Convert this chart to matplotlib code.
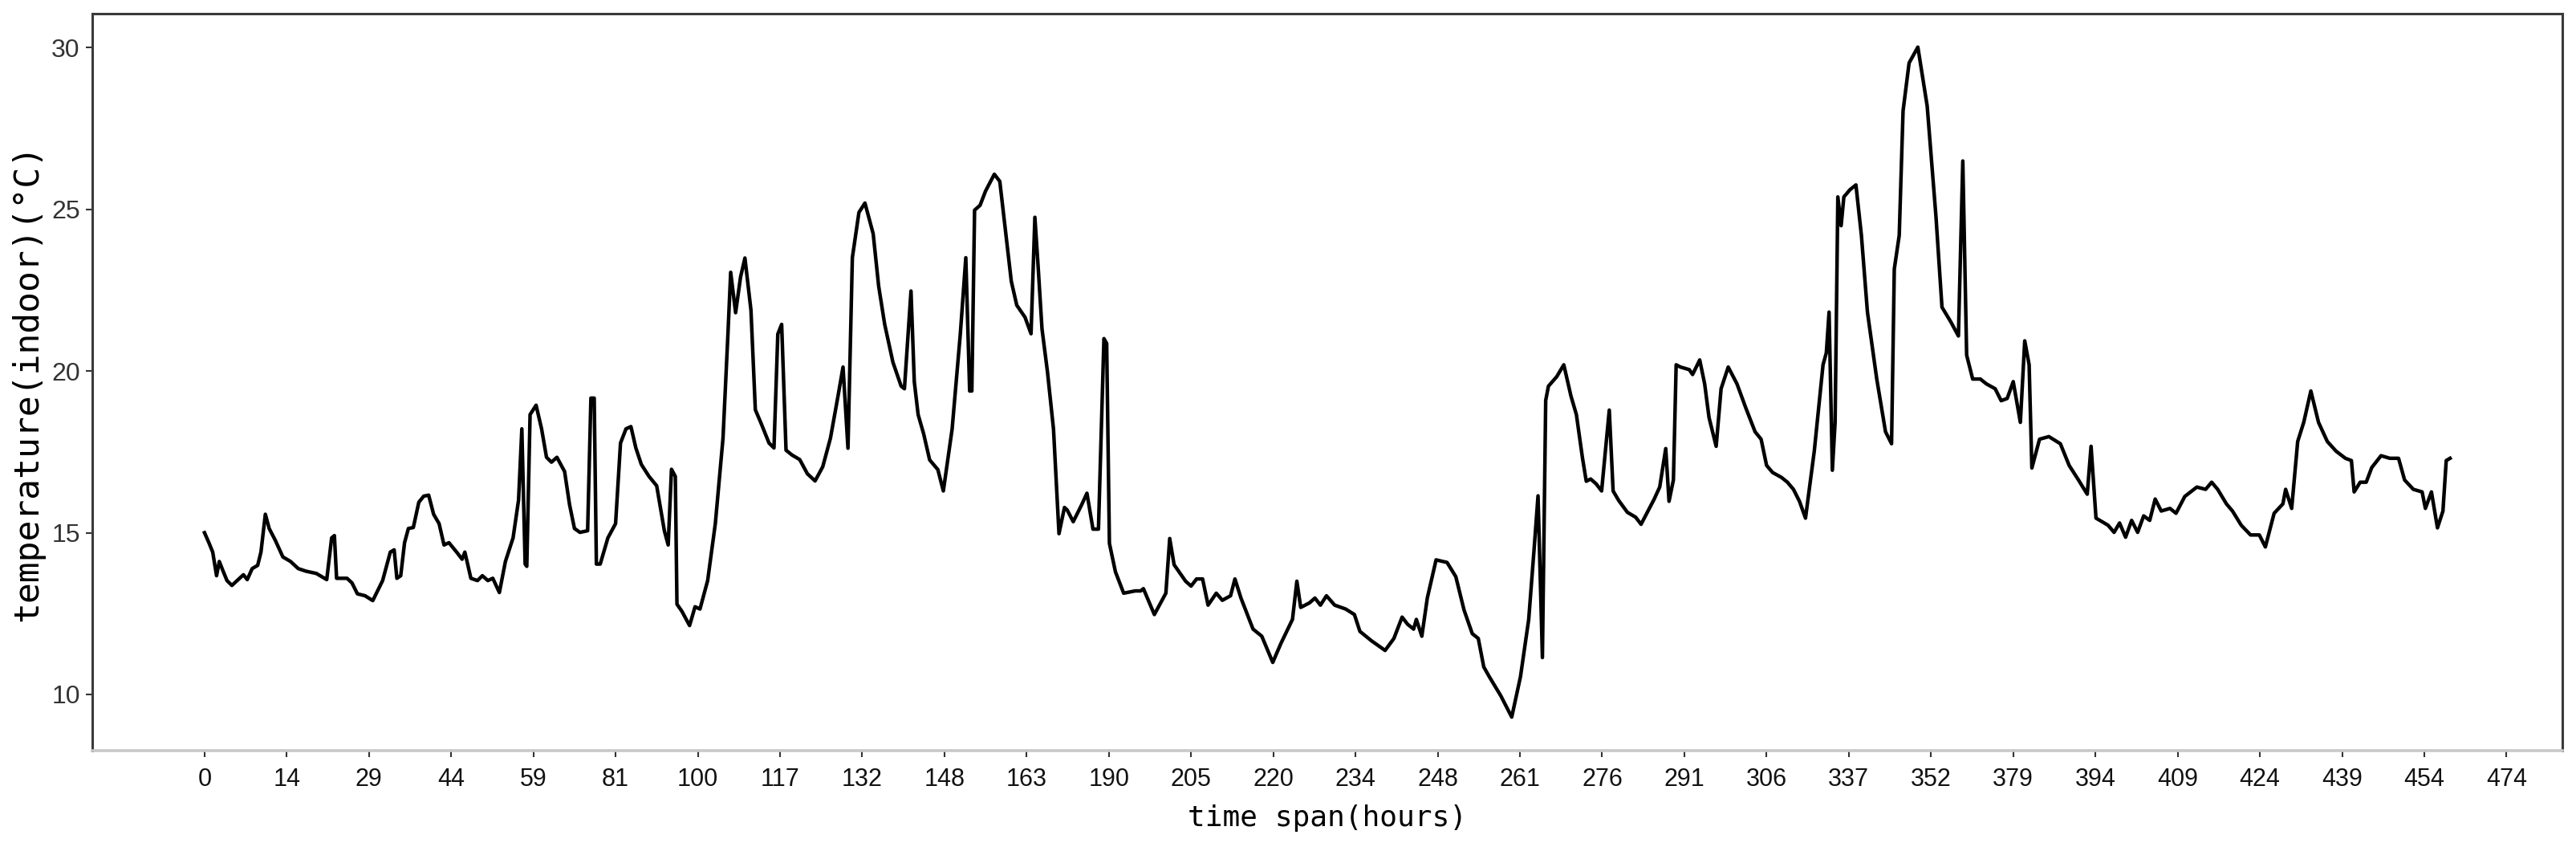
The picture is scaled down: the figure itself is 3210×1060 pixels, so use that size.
import matplotlib
matplotlib.use('Agg')
import matplotlib.pyplot as plt
from matplotlib import font_manager
import numpy as np

# sample index (15 samples per x tick) and indoor temperature
idx = [0.0, 0.8, 1.5, 2.2, 2.7, 3.4, 4.1, 5.0, 6.4, 7.1, 7.8, 8.7, 9.7, 10.3, 11.1, 11.8,
       12.9, 14.3, 15.7, 17.1, 18.5, 20.4, 22.3, 23.2, 23.7, 24.1, 26.0, 26.9, 27.9, 29.3,
       30.7, 32.5, 33.9, 34.6, 35.1, 35.8, 36.5, 37.2, 38.1, 39.1, 40.0, 40.9, 41.8, 42.8,
       43.7, 44.6, 46.0, 47.0, 47.5, 47.9, 48.6, 49.8, 50.7, 51.7, 52.6, 53.8, 54.9, 56.3,
       57.3, 57.9, 58.5, 58.8, 59.4, 60.5, 61.5, 62.4, 63.3, 64.3, 65.7, 66.6, 67.5, 68.5,
       69.9, 70.5, 71.1, 71.5, 72.2, 73.6, 75.0, 75.9, 76.9, 77.8, 78.7, 79.7, 81.1, 82.5,
       83.9, 84.6, 85.2, 85.9, 86.2, 87.1, 88.5, 89.5, 90.4, 91.8, 93.2, 94.6, 95.5, 96.0,
       96.9, 97.8, 98.6, 99.7, 100.5, 101.6, 103.0, 103.9, 104.6, 105.3, 106.1, 107.2, 108.6,
       110.0, 111.4, 112.8, 114.2, 115.6, 116.5,
       117.4, 118.2, 119.4, 120.5, 122.0, 123.0, 124.1, 125.6, 127.1, 127.7, 128.9, 129.5,
       130.2, 131.2, 132.3, 133.8, 134.8, 136.4, 137.9, 138.9, 139.6, 140.0, 140.5, 141.5,
       142.5, 144.1, 145.1, 146.1, 147.2, 148.2, 149.7, 150.8, 151.5, 152.1, 152.8, 153.8,
       154.9, 155.9, 156.9, 157.4, 158.5, 160.0, 161.0, 162.1, 163.1, 164.1, 164.6, 165.1,
       166.2, 167.7, 169.8, 170.8, 171.3, 173.3, 175.4, 176.1, 176.9, 179.0, 180.0, 181.0,
       182.1, 183.1, 184.6, 185.7, 187.2, 188.0, 189.1, 191.3, 192.9, 194.9, 196.4, 198.5,
       199.3, 200.0, 201.6, 202.6, 203.6, 204.7, 206.2, 208.2, 209.8, 210.8, 212.9, 215.4,
       217.0, 218.5, 219.5, 220.6, 221.1, 222.1, 223.1, 224.7, 226.7, 228.3, 229.8, 231.3,
       232.4, 233.4, 234.4, 236.5, 238.5, 240.1, 241.6, 242.6, 243.3, 244.1, 244.7, 245.2,
       246.7, 248.0, 249.3, 250.3, 251.4, 252.1, 252.9, 253.9, 254.9, 256.3, 257.0, 258.0,
       259.6, 261.1, 262.1,
       264.5, 265.5, 266.6, 267.2, 268.0, 268.5, 269.3, 270.9, 271.5, 272.8, 273.7, 274.5,
       275.8, 276.7, 278.0, 279.6, 281.2, 282.9, 284.0, 285.0, 286.1, 287.7, 288.8, 289.9,
       291.0, 292.1, 293.7, 295.3, 295.9, 296.4, 297.0, 297.5, 298.0, 298.6, 299.1, 300.2,
       301.3, 302.3, 303.4, 305.1, 306.7, 307.8, 308.3, 309.2, 309.9, 311.0, 312.6, 314.3,
       315.9, 317.0, 318.6, 320.0, 320.8, 321.5, 322.6, 324.0, 325.1, 326.7, 327.8, 328.9,
       330.0, 331.3, 332.1, 332.9, 333.4, 334.8, 336.5, 338.6, 340.2, 341.9, 343.5, 344.2,
       345.1, 347.3, 348.4, 349.4, 350.5, 351.6, 352.7, 353.8, 354.9, 355.9, 357.0, 358.6,
       359.7, 361.3, 363.5, 365.1, 366.2, 367.3, 368.9, 370.0, 371.6, 373.3, 374.9, 376.0,
       377.6, 379.2, 379.7, 380.8, 381.9, 383.0, 384.3, 385.7, 387.3, 388.9, 390.6, 391.7,
       392.2, 393.3, 394.4, 395.4, 397.1, 398.7, 400.3, 401.4, 403.0, 404.6, 405.2, 406.3,
       407.4, 408.4, 409.0, 409.7]

temp = [15.0, 14.69, 14.40, 13.67, 14.11, 13.81, 13.52, 13.37, 13.59, 13.70, 13.55, 13.89,
        13.99, 14.40, 15.57, 15.13, 14.77, 14.25, 14.11, 13.89, 13.81, 13.74, 13.55, 14.84,
        14.91, 13.59, 13.59, 13.45, 13.11, 13.05, 12.90, 13.52, 14.40, 14.47, 13.59, 13.67,
        14.69, 15.13, 15.16, 15.94, 16.13, 16.16, 15.57, 15.28, 14.62, 14.69, 14.40, 14.18,
        14.40, 14.11, 13.59, 13.52, 13.67, 13.52, 13.59, 13.15, 14.11, 14.84, 16.01, 18.21,
        14.03, 13.96, 18.65, 18.94, 18.21, 17.33, 17.18, 17.33, 16.89, 15.87, 15.13, 15.01,
        15.06, 19.16, 19.16, 14.03, 14.03, 14.84, 15.28, 17.77, 18.21, 18.28, 17.62, 17.11,
        16.74, 16.45, 15.06, 14.62, 16.96, 16.74, 12.79, 12.57, 12.13, 12.71, 12.64, 13.52,
        15.28, 17.92, 21.14, 23.05, 21.80, 22.90, 23.49, 21.88, 18.80, 18.36, 17.77, 17.62,
        21.14, 21.44, 17.55, 17.40, 17.26, 16.82, 16.60, 17.04, 17.92, 19.24, 20.12,
        17.61, 23.50, 24.90, 25.19, 24.24, 22.62, 21.44, 20.27, 19.53, 19.45, 22.47, 19.67,
        18.65, 18.06, 17.25, 16.95, 16.29, 18.20, 21.15, 23.50, 19.38, 19.38, 24.97, 25.12,
        25.56, 26.08, 25.86, 24.39, 22.77, 22.03, 21.66, 21.15, 24.75, 23.21, 21.30, 19.97,
        18.20, 14.97, 15.78, 15.70, 15.34, 15.85, 16.22, 15.11, 15.11, 21.00, 20.85, 14.67,
        13.79, 13.13, 13.20, 13.20, 13.27, 12.47, 13.13, 14.82, 14.01, 13.50, 13.35, 13.57,
        13.57, 12.76, 13.13, 12.91, 13.05, 13.57, 12.98, 12.02, 11.80, 10.99, 11.58, 12.32,
        13.50, 12.69, 12.83, 12.98, 12.76, 13.05, 12.76, 12.64, 12.47, 11.95, 11.66, 11.36,
        11.73, 12.39, 12.17, 12.02, 12.32, 11.80, 12.98, 14.16, 14.08, 13.64, 12.61, 11.88,
        11.73, 10.85, 10.55, 9.96, 9.30, 10.55, 12.32, 14.53, 16.14, 11.14, 19.09, 19.53,
        19.82, 20.19, 19.23, 18.65, 17.32, 16.59, 16.66, 16.51, 16.29, 18.79, 16.29, 16.00,
        15.63, 15.48, 15.26,
        16.04, 16.41, 17.60, 15.97, 16.63, 20.19, 20.12, 20.04, 19.89, 20.34, 19.60, 18.56,
        17.67, 19.45, 20.12, 19.60, 18.86, 18.12, 17.89, 17.08, 16.86, 16.71, 16.56, 16.34,
        15.97, 15.45, 17.52, 20.19, 20.56, 21.82, 16.93, 18.41, 25.38, 24.49, 25.38, 25.60,
        25.75, 24.19, 21.82, 19.75, 18.12, 17.75, 23.15, 24.19, 28.04, 29.52, 30.01, 28.19,
        24.78, 21.97, 21.52, 21.08, 26.49, 20.49, 19.75, 19.75, 19.60, 19.45, 19.08, 19.15,
        19.67, 18.41, 20.93, 20.19, 17.00, 17.89, 17.97, 17.75, 17.08, 16.63, 16.19, 17.67,
        15.45, 15.23, 15.01, 15.30, 14.86, 15.38, 15.01, 15.52, 15.38, 16.04, 15.67, 15.75,
        15.60, 16.12, 16.41, 16.34, 16.56, 16.34, 15.89, 15.67, 15.23, 14.93, 14.93, 14.56,
        15.60, 15.89, 16.34, 15.75, 17.82, 18.41, 19.38, 18.41, 17.82, 17.52, 17.30, 17.23,
        16.26, 16.56, 16.56, 17.01, 17.38, 17.30, 17.30, 16.63, 16.34, 16.26, 15.75, 16.26,
        15.15, 15.67, 17.23, 17.30]

hour_labels = ['0', '14', '29', '44', '59', '81', '100', '117', '132', '148', '163', '190',
               '205', '220', '234', '248', '261', '276', '291', '306', '337', '352', '379',
               '394', '409', '424', '439', '454', '474']
tick_step = 15

names = {f.name for f in font_manager.fontManager.ttflist}
narrow = 'Liberation Sans Narrow' if 'Liberation Sans Narrow' in names else 'Liberation Sans'
xt_size = 25 if narrow == 'Liberation Sans Narrow' else 22

fig, ax = plt.subplots(figsize=(32.1, 10.6), dpi=100)
fig.subplots_adjust(left=0.0358, right=0.9947, bottom=0.118, top=0.984)

ax.plot(idx, temp, color='black', linewidth=3.2)

ax.set_xticks(np.arange(len(hour_labels)) * tick_step)
ax.set_xticklabels(hour_labels, fontfamily=narrow, fontsize=xt_size, color='#111111')
ax.set_yticks([10, 15, 20, 25, 30])
ax.set_yticklabels(['10', '15', '20', '25', '30'], fontfamily='Liberation Sans',
                   fontsize=23, color='#333333')

ax.tick_params(axis='x', direction='out', length=6, width=1.5, color='#333333', pad=9)
ax.tick_params(axis='y', direction='out', length=6, width=1.5, color='#333333', pad=5)

for side in ['top', 'left', 'right']:
    ax.spines[side].set_color('#3a3a3a')
    ax.spines[side].set_linewidth(2.2)
ax.spines['bottom'].set_color('#c8c8c8')
ax.spines['bottom'].set_linewidth(2.6)

ax.set_xlabel('time span(hours)', fontfamily='DejaVu Sans Mono', fontsize=26, labelpad=12)
ax.set_ylabel('temperature(indoor)(°C)', fontfamily='DejaVu Sans Mono', fontsize=31, labelpad=6)

fig.savefig('out.png', dpi=100)
